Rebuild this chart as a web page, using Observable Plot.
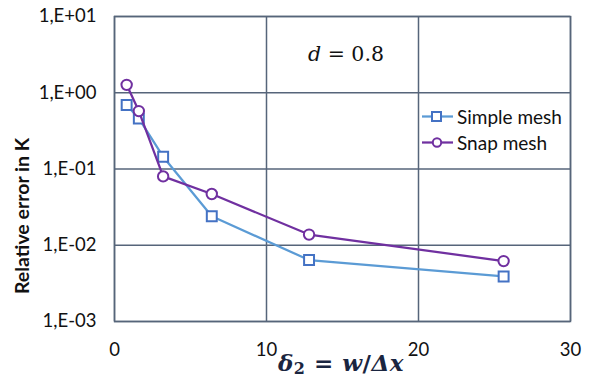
<!DOCTYPE html>
<html><head><meta charset="utf-8">
<script src="https://cdn.jsdelivr.net/npm/d3@7"></script>
<script src="https://cdn.jsdelivr.net/npm/@observablehq/plot@0.6"></script>
<style>
body{margin:0;background:#fff;}
#wrap{position:relative;width:593px;height:380px;font-family:Lato,"Open Sans",sans-serif;}
.ov{position:absolute;white-space:nowrap;color:#111;line-height:1;}
</style></head><body>
<div id="wrap"></div>
<script>
const delta = [0.8, 1.6, 3.2, 6.4, 12.8, 25.6];
const simpleMesh = [0.69, 0.46, 0.145, 0.024, 0.0064, 0.0039];
const snapMesh = [1.27, 0.575, 0.080, 0.047, 0.0138, 0.0062];
const seriesNames = ["Simple mesh", "Snap mesh"];
const xTicks = [0, 10, 20, 30];
const yTicks = [1e-3, 1e-2, 1e-1, 1, 10];
const gridColor = "#56657a";

const simple = delta.map((x, i) => ({x, y: simpleMesh[i]}));
const snap = delta.map((x, i) => ({x, y: snapMesh[i]}));
const fmt = v => { const e = Math.round(Math.log10(v)); return "1,E" + (e >= 0 ? "+" : "-") + String(Math.abs(e)).padStart(2, "0"); };

const chart = Plot.plot({
  width: 593, height: 380,
  marginLeft: 114, marginRight: 23, marginTop: 16, marginBottom: 59,
  style: {fontFamily: "Lato, 'Open Sans', sans-serif", fontSize: "18.5px", color: "#111", background: "#fff"},
  x: {domain: [0, 30], ticks: xTicks, label: null},
  y: {type: "log", domain: [1e-3, 10], ticks: yTicks, label: null},
  marks: [
    Plot.gridX(xTicks, {stroke: gridColor, strokeOpacity: 1, strokeWidth: 1.5}),
    Plot.gridY(yTicks, {stroke: gridColor, strokeOpacity: 1, strokeWidth: 1.5}),
    Plot.frame({stroke: gridColor, strokeWidth: 1.5}),
    Plot.axisX({ticks: xTicks, tickSize: 0, tickPadding: 21, label: null, fill: "#111"}),
    Plot.axisY({ticks: yTicks, tickSize: 0, tickPadding: 18, tickFormat: fmt, label: null, fill: "#111"}),
    Plot.line(simple, {x: "x", y: "y", stroke: "#5b9bd5", strokeWidth: 2.25}),
    Plot.dot(simple, {x: "x", y: "y", symbol: "square", r: 5.6, stroke: "#4472c4", strokeWidth: 2, fill: "white"}),
    Plot.line(snap, {x: "x", y: "y", stroke: "#7030a0", strokeWidth: 2.25}),
    Plot.dot(snap, {x: "x", y: "y", symbol: "circle", r: 5.2, stroke: "#7030a0", strokeWidth: 2, fill: "white"})
  ]
});
const wrap = document.getElementById("wrap");
wrap.appendChild(chart);

function ov(html, css){ const d = document.createElement("div"); d.className = "ov"; d.innerHTML = html; Object.assign(d.style, css); wrap.appendChild(d); return d; }

// annotation
ov('<i>d</i> = 0.8', {left: "308px", top: "44px", fontFamily: "'DejaVu Serif','Liberation Serif',serif", fontSize: "20.5px"});
// x label
ov('<i>δ</i><sub style="font-size:16px;vertical-align:-3px;line-height:1">2</sub> = <i>w</i>/<i>Δx</i>', {left: "278px", top: "351px", fontFamily: "'DejaVu Serif','Liberation Serif',serif", fontSize: "23px", fontWeight: "bold", fontStyle: "normal", color: "#1a2540", letterSpacing: "0.5px"});
// y label
ov('Relative error in K', {left: "22px", top: "216px", fontSize: "19.5px", fontWeight: "bold", transform: "translate(-50%,-50%) rotate(-90deg)"});
// legend
const legColors = [["#5b9bd5", "#4472c4", "square"], ["#7030a0", "#7030a0", "circle"]];
seriesNames.forEach((name, i) => {
  const [lc, mc, shape] = legColors[i];
  const top = 104 + i * 26;
  const marker = shape === "square"
    ? `<rect x="10" y="5" width="9" height="9" fill="white" stroke="${mc}" stroke-width="2"/>`
    : `<circle cx="15" cy="9.5" r="4.2" fill="white" stroke="${mc}" stroke-width="2"/>`;
  ov(`<svg width="32" height="19" style="vertical-align:middle"><line x1="0" x2="31" y1="9.5" y2="9.5" stroke="${lc}" stroke-width="2.25"/>${marker}</svg><span style="vertical-align:middle;margin-left:3px">${name}</span>`,
     {left: "422px", top: top + "px", fontSize: "19px", fontFamily: "Lato,'Open Sans',sans-serif"});
});
</script>
</body></html>
